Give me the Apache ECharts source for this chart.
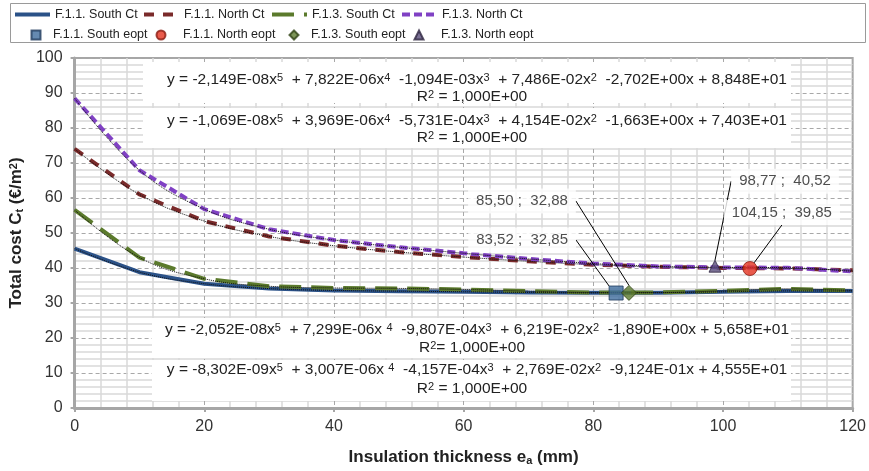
<!DOCTYPE html>
<html>
<head>
<meta charset="utf-8">
<script src="https://cdn.jsdelivr.net/npm/echarts@6/dist/echarts.min.js"></script>
<style>
  html, body { margin: 0; padding: 0; background: #fff; }
  #chart { width: 869px; height: 471px; }
</style>
</head>
<body>
<div id="chart"></div>
<script>
// insulation thickness (mm)
var thickness = [0, 10, 20, 30, 40, 50, 60, 70, 80, 90, 100, 110, 120]

// total cost Ct (EUR/m2)
var southF11 = [45.55, 38.81, 35.51, 34.11, 33.60, 33.39, 33.21, 33.02, 32.90, 32.95, 33.19, 33.45, 33.40]
var northF11 = [74.03, 61.02, 53.40, 49.01, 46.36, 44.56, 43.13, 41.92, 40.96, 40.33, 40.03, 39.88, 39.34]
var southF13 = [56.58, 42.99, 36.91, 34.79, 34.30, 34.17, 33.87, 33.39, 33.01, 33.01, 33.48, 34.04, 33.58]
var northF13 = [88.48, 67.93, 56.82, 51.07, 47.98, 45.95, 44.21, 42.60, 41.27, 40.45, 40.18, 40.07, 39.02]

var curveNames = ['F.1.1. South Ct', 'F.1.1. North Ct', 'F.1.3. South Ct', 'F.1.3. North Ct']
var eoptNames = ['F.1.1. South eopt', 'F.1.1. North eopt', 'F.1.3. South eopt', 'F.1.3. North eopt']

// optimum points
var eoptX = [83.52, 104.15, 85.50, 98.77]
var eoptY = [32.85, 39.85, 32.88, 40.52]

// trendline equations, top to bottom
var eqLines = [
    'y = -2,149E-08x{sup|5}  + 7,822E-06x{sup|4}  -1,094E-03x{sup|3}  + 7,486E-02x{sup|2}  -2,702E+00x + 8,848E+01',
    'y = -1,069E-08x{sup|5}  + 3,969E-06x{sup|4}  -5,731E-04x{sup|3}  + 4,154E-02x{sup|2}  -1,663E+00x + 7,403E+01',
    'y = -2,052E-08x{sup|5}  + 7,299E-06x {sup|4}  -9,807E-04x{sup|3}  + 6,219E-02x{sup|2}  -1,890E+00x + 5,658E+01',
    'y = -8,302E-09x{sup|5}  + 3,007E-06x {sup|4}  -4,157E-04x{sup|3}  + 2,769E-02x{sup|2}  -9,124E-01x + 4,555E+01'
]
var r2Lines = ['R{sup|2} = 1,000E+00', 'R{sup|2} = 1,000E+00', 'R{sup|2}= 1,000E+00', 'R{sup|2} = 1,000E+00']

function pairs(ys) {
    var out = []
    for (var i = 0; i < thickness.length; i++) {
        out.push([thickness[i], ys[i]])
    }
    return out
}

function fmt(v) {
    return v.toFixed(2).replace('.', ',')
}

var font = '"Liberation Sans", Arial, sans-serif'

var curveData = [southF11, northF11, southF13, northF13]
var curveColors = ['#2b5288', '#7a2a2a', '#5b7a2c', '#8041c4']
var curveDash = ['solid', [10, 9], [22, 10], [8, 4]]

var eoptSymbols = ['rect', 'circle', 'diamond', 'triangle']
var eoptColors = ['#3e6d9e', '#e3321f', '#5d7b2e', '#5a4d7a']
var eoptBorders = ['#1e3a5c', '#8a1a10', '#2f4214', '#2e2640']
var eoptSizes = [14, 14, 15, 12]
var labelShift = [[-94, -53], [32, -56], [-107, -92], [70, -85]]

var series = []
for (var i = 0; i < 4; i++) {
    series.push({
        name: curveNames[i],
        type: 'line',
        data: pairs(curveData[i]),
        symbol: 'none',
        color: curveColors[i],
        lineStyle: { width: 4, type: curveDash[i], color: curveColors[i] },
        z: 2 + i
    })
}
// polynomial trendlines (thin dotted)
for (var i = 0; i < 4; i++) {
    series.push({
        type: 'line',
        data: pairs(curveData[i]),
        symbol: 'none',
        smooth: 0.4,
        silent: true,
        lineStyle: { width: 1, type: 'dotted', color: '#111' },
        z: 8
    })
}
for (var i = 0; i < 4; i++) {
    series.push({
        name: eoptNames[i],
        type: 'scatter',
        data: [[eoptX[i], eoptY[i]]],
        symbol: eoptSymbols[i],
        symbolSize: eoptSizes[i],
        color: eoptColors[i],
        itemStyle: { color: eoptColors[i], borderColor: eoptBorders[i], borderWidth: 1 },
        z: 10,
        label: {
            show: true,
            position: 'inside',
            formatter: function (p) { return fmt(p.value[0]) + ' ;  ' + fmt(p.value[1]) },
            color: '#222',
            fontSize: 15,
            fontFamily: font,
            backgroundColor: '#fff',
            padding: [5, 8]
        },
        labelLayout: { dx: labelShift[i][0], dy: labelShift[i][1] },
        labelLine: { show: true, lineStyle: { color: '#000', width: 1 } }
    })
}

// legend: row 1 = curves, row 2 = optimum markers
var lineLegendLeft = [8, 137, 265, 395]
var markLegendLeft = [25.5, 150.5, 283.5, 408.5]
var markTextPad = [7.5, 12.5, 7.5, 12.5]
var legends = []
for (var i = 0; i < 4; i++) {
    legends.push({
        left: lineLegendLeft[i],
        top: 3,
        itemWidth: 35,
        itemHeight: 14,
        data: [curveNames[i]],
        itemStyle: { color: 'rgba(0,0,0,0)', borderColor: 'rgba(0,0,0,0)', borderWidth: 0, opacity: 0 },
        lineStyle: { width: 4 },
        textStyle: { fontSize: 12.5, fontFamily: font, color: '#222' }
    })
    legends.push({
        left: markLegendLeft[i],
        top: 23.5,
        itemWidth: 9,
        itemHeight: 9,
        data: [eoptNames[i]],
        textStyle: { fontSize: 12.5, fontFamily: font, color: '#222', padding: [0, 0, 0, markTextPad[i]] }
    })
}

var graphics = [
    { type: 'rect', shape: { x: 10.5, y: 3.5, width: 855, height: 39 }, style: { fill: 'none', stroke: '#9a9a9a', lineWidth: 1 } },
    { type: 'rect', shape: { x: 143, y: 62, width: 648, height: 41 }, style: { fill: '#fff' }, z: 1 },
    { type: 'rect', shape: { x: 143, y: 108, width: 648, height: 40 }, style: { fill: '#fff' }, z: 1 },
    { type: 'rect', shape: { x: 152, y: 318, width: 639, height: 40 }, style: { fill: '#fff' }, z: 1 },
    { type: 'rect', shape: { x: 152, y: 360, width: 639, height: 41 }, style: { fill: '#fff' }, z: 1 }
]
var eqY = [80, 121, 330, 370]
var r2Y = [97, 138, 348, 389]
for (var i = 0; i < 4; i++) {
    graphics.push({
        type: 'text', x: 477, y: eqY[i], z: 2,
        style: {
            text: eqLines[i], align: 'center', verticalAlign: 'middle',
            fontSize: 15.5, fontFamily: font, fill: '#222',
            rich: { sup: { fontSize: 11, verticalAlign: 'top', fill: '#222', fontFamily: font } }
        }
    })
    graphics.push({
        type: 'text', x: 472, y: r2Y[i], z: 2,
        style: {
            text: r2Lines[i], align: 'center', verticalAlign: 'middle',
            fontSize: 15.5, fontFamily: font, fill: '#222',
            rich: { sup: { fontSize: 11, verticalAlign: 'top', fill: '#222', fontFamily: font } }
        }
    })
}

var option = {
    animation: false,
    backgroundColor: '#fff',
    legend: legends,
    grid: {
        left: 66, right: 16, top: 58, bottom: 56,
        show: true, borderColor: '#a6a6a6', borderWidth: 2
    },
    xAxis: {
        type: 'value',
        min: 0, max: 120, interval: 20,
        name: 'Insulation thickness e{sub|a} (mm)',
        nameLocation: 'middle',
        nameGap: 41,
        nameTextStyle: {
            fontSize: 17, fontWeight: 'bold', fontFamily: font, color: '#222',
            rich: { sub: { fontSize: 11, fontWeight: 'bold', verticalAlign: 'bottom', fontFamily: font, color: '#222' } }
        },
        axisLine: { onZero: false, lineStyle: { color: '#a6a6a6', width: 3 } },
        axisTick: { show: true, length: 4, lineStyle: { color: '#a6a6a6', width: 2 } },
        axisLabel: { fontSize: 16, fontFamily: font, color: '#333', margin: 11 },
        splitLine: { show: true, lineStyle: { color: '#a8a8a8', type: [4, 3], width: 1 } },
        minorTick: { show: false, splitNumber: 5 },
        minorSplitLine: { show: true, lineStyle: { color: '#d9d9d9', width: 1.5 } }
    },
    yAxis: {
        type: 'value',
        min: 0, max: 100, interval: 10,
        name: 'Total cost C{sub|t} (€/m{sup|2})',
        nameLocation: 'middle',
        nameGap: 48,
        nameTextStyle: {
            fontSize: 17, fontWeight: 'bold', fontFamily: font, color: '#222',
            rich: {
                sub: { fontSize: 11, fontWeight: 'bold', verticalAlign: 'bottom', fontFamily: font, color: '#222' },
                sup: { fontSize: 11, fontWeight: 'bold', verticalAlign: 'top', fontFamily: font, color: '#222' }
            }
        },
        axisLine: { show: true, onZero: false, lineStyle: { color: '#a6a6a6', width: 3 } },
        axisTick: { show: true, length: 4, lineStyle: { color: '#a6a6a6', width: 2 } },
        axisLabel: { fontSize: 16, fontFamily: font, color: '#333', margin: 12 },
        splitLine: { show: true, lineStyle: { color: '#a8a8a8', type: [4, 3], width: 1 } },
        minorTick: { show: false, splitNumber: 5 },
        minorSplitLine: { show: true, lineStyle: { color: '#d9d9d9', width: 1.5 } }
    },
    graphic: graphics,
    series: series
}

var myChart = echarts.init(document.getElementById('chart'))
myChart.setOption(option)
</script>
</body>
</html>
